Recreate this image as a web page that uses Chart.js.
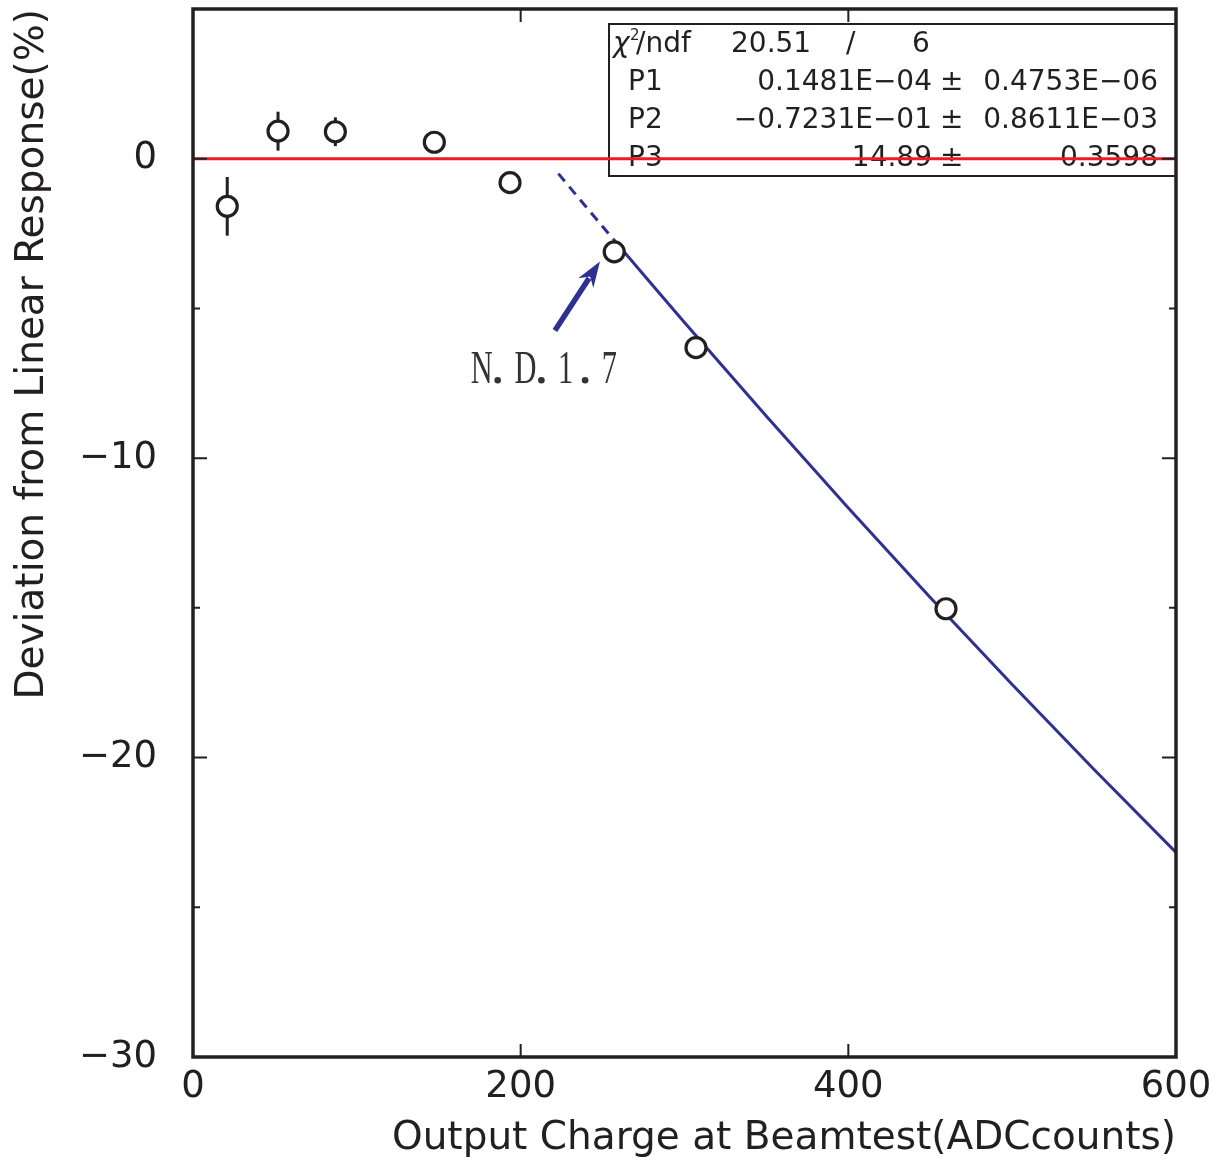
<!DOCTYPE html>
<html lang="en">
<head>
  <meta charset="UTF-8" />
  <title>Deviation from Linear Response</title>
  <script src="https://cdn.jsdelivr.net/npm/chart.js"></script>
  <style>
    html, body { margin: 0; padding: 0; background: #fff; }
  </style>
</head>
<body>
  <canvas id="chart" width="1222" height="1164"></canvas>

  <script>
    // measured points (ADC counts, deviation %)
    const chargeVals = [20.9, 51.9, 86.9, 147.3, 193.5, 257.1, 307.0, 459.6];
    const deviationVals = [-1.59, 0.92, 0.90, 0.55, -0.80, -3.11, -6.31, -15.03];
    const deviationErr = [0.98, 0.65, 0.48, 0.30, 0.25, 0.25, 0.25, 0.25];

    // pol2 fit result: P1*x^2 + P2*x + P3
    const fitParams = [0.1481e-4, -0.7231e-1, 14.89];
    const fitDashedX = [223, 230, 240, 250, 258];
    const fitSolidX = [258, 280, 300, 350, 400, 450, 500, 550, 600];

    const xTicks = [0, 200, 400, 600];
    const yTicks = [-30, -25, -20, -15, -10, -5, 0, 5];

    const statsRows = [
      ['P1', '0.1481E\u221204', '0.4753E\u221206'],
      ['P2', '\u22120.7231E\u221201', '0.8611E\u221203'],
      ['P3', '14.89', '0.3598']
    ];

    // N.D.1.7 arrow (tail, tip) and label position, data coordinates
    const arrowTail = { x: 220.9, y: -5.74 };
    const arrowTip = { x: 248.4, y: -3.43 };
    const ndLabel = { x: 169.5, y: -7.0 };
    const ndParts = ['N', 'D', '1', '7'];

    const fitAt = x => fitParams[0] * x * x + fitParams[1] * x + fitParams[2];
    const BLUE = '#2e3192';
    const INK = '#231f20';
    const SANS = '"DejaVu Sans", sans-serif';

    const errorBars = {
      id: 'errorBars',
      beforeDatasetsDraw(chart) {
        const { ctx, scales: { x, y } } = chart;
        ctx.save();
        ctx.strokeStyle = INK;
        ctx.lineWidth = 3;
        chargeVals.forEach((cx, i) => {
          const px = x.getPixelForValue(cx);
          ctx.beginPath();
          ctx.moveTo(px, y.getPixelForValue(deviationVals[i] + deviationErr[i]));
          ctx.lineTo(px, y.getPixelForValue(deviationVals[i] - deviationErr[i]));
          ctx.stroke();
        });
        ctx.restore();
      }
    };

    // fit statistics box, drawn under the datasets so the zero line crosses it
    const statsBox = {
      id: 'statsBox',
      beforeDatasetsDraw(chart) {
        const { ctx, chartArea } = chart;
        const left = 609, top = 24, right = chartArea.right, bottom = 176;
        ctx.save();
        ctx.fillStyle = '#fff';
        ctx.fillRect(left, top, right - left, bottom - top);
        ctx.strokeStyle = INK;
        ctx.lineWidth = 2;
        ctx.strokeRect(left, top, right - left, bottom - top);

        ctx.fillStyle = INK;
        ctx.textBaseline = 'middle';
        const rowY = [45, 83, 121, 159];

        ctx.textAlign = 'left';
        ctx.font = 'italic 28px ' + SANS;
        ctx.fillText('\u03c7', 613, rowY[0]);
        ctx.font = '15px ' + SANS;
        ctx.fillText('2', 630, rowY[0] - 9);
        ctx.font = '28px ' + SANS;
        ctx.fillText('/ndf', 636, rowY[0]);
        ctx.fillText('20.51', 731, rowY[0]);
        ctx.fillText('/', 846, rowY[0]);
        ctx.fillText('6', 912, rowY[0]);

        statsRows.forEach((r, i) => {
          const yy = rowY[i + 1];
          ctx.textAlign = 'left';
          ctx.fillText(r[0], 628, yy);
          ctx.textAlign = 'right';
          ctx.fillText(r[1], 932, yy);
          ctx.textAlign = 'left';
          ctx.fillText('\u00b1', 940, yy);
          ctx.textAlign = 'right';
          ctx.fillText(r[2], 1158, yy);
        });
        ctx.restore();
      }
    };

    // frame with inward ticks on all four sides, plus the arrow annotation
    const frameAndNotes = {
      id: 'frameAndNotes',
      afterDraw(chart) {
        const { ctx, chartArea: a, scales: { x, y } } = chart;
        ctx.save();
        ctx.strokeStyle = INK;
        ctx.lineWidth = 2;
        xTicks.slice(1, -1).forEach(v => {
          const px = x.getPixelForValue(v);
          ctx.beginPath();
          ctx.moveTo(px, a.bottom); ctx.lineTo(px, a.bottom - 13);
          ctx.moveTo(px, a.top); ctx.lineTo(px, a.top + 13);
          ctx.stroke();
        });
        yTicks.slice(1, -1).forEach(v => {
          const py = y.getPixelForValue(v);
          const len = v % 10 === 0 ? 14 : 7;
          ctx.beginPath();
          ctx.moveTo(a.left, py); ctx.lineTo(a.left + len, py);
          ctx.moveTo(a.right, py); ctx.lineTo(a.right - len, py);
          ctx.stroke();
        });
        ctx.lineWidth = 3.5;
        ctx.strokeRect(a.left, a.top, a.right - a.left, a.bottom - a.top);

        // arrow
        const tx = x.getPixelForValue(arrowTail.x), ty = y.getPixelForValue(arrowTail.y);
        const hx = x.getPixelForValue(arrowTip.x), hy = y.getPixelForValue(arrowTip.y);
        const ang = Math.atan2(hy - ty, hx - tx);
        const headLen = 26, headW = 9;
        const bx = hx - headLen * Math.cos(ang), by = hy - headLen * Math.sin(ang);
        ctx.strokeStyle = BLUE;
        ctx.fillStyle = BLUE;
        ctx.lineWidth = 5.5;
        ctx.beginPath();
        ctx.moveTo(tx, ty); ctx.lineTo(bx + 6 * Math.cos(ang), by + 6 * Math.sin(ang));
        ctx.stroke();
        ctx.beginPath();
        ctx.moveTo(hx, hy);
        ctx.lineTo(bx + headW * Math.sin(ang), by - headW * Math.cos(ang));
        ctx.lineTo(bx + 8 * Math.cos(ang), by + 8 * Math.sin(ang));
        ctx.lineTo(bx - headW * Math.sin(ang), by + headW * Math.cos(ang));
        ctx.closePath();
        ctx.fill();

        // label in a narrow serif, glyphs on a fixed pitch with a dot after each
        ctx.fillStyle = '#333';
        ctx.font = '46px "Liberation Serif", serif';
        ctx.textAlign = 'left';
        ctx.textBaseline = 'alphabetic';
        const lx = x.getPixelForValue(ndLabel.x), ly = y.getPixelForValue(ndLabel.y) + 15;
        ndParts.forEach((p, i) => {
          const gx = lx + i * 43.7;
          ctx.save();
          ctx.translate(gx, ly);
          ctx.scale(0.66, 1);
          ctx.fillText(p, 0, 0);
          ctx.restore();
          if (i < ndParts.length - 1) {
            ctx.beginPath();
            ctx.arc(gx + 27, ly - 3, 3.3, 0, Math.PI * 2);
            ctx.fill();
          }
        });
        ctx.restore();
      }
    };

    new Chart(document.getElementById('chart'), {
      type: 'scatter',
      data: {
        datasets: [
          {
            label: 'data',
            data: chargeVals.map((v, i) => ({ x: v, y: deviationVals[i] })),
            pointRadius: 10,
            pointBorderWidth: 3.2,
            borderColor: INK,
            backgroundColor: '#fff',
            showLine: false
          },
          {
            label: 'fit extrapolation',
            data: fitDashedX.map(v => ({ x: v, y: fitAt(v) })),
            showLine: true,
            pointRadius: 0,
            borderColor: BLUE,
            borderWidth: 3,
            borderDash: [10, 7]
          },
          {
            label: 'fit',
            data: fitSolidX.map(v => ({ x: v, y: fitAt(v) })),
            showLine: true,
            pointRadius: 0,
            borderColor: BLUE,
            borderWidth: 3
          },
          {
            label: 'zero',
            data: [{ x: 0, y: 0 }, { x: 600, y: 0 }],
            showLine: true,
            pointRadius: 0,
            borderColor: '#ed1c24',
            borderWidth: 3
          }
        ]
      },
      options: {
        responsive: false,
        animation: false,
        devicePixelRatio: 1,
        layout: { autoPadding: false, padding: { top: 9, right: 46, left: 0, bottom: 0 } },
        plugins: { legend: { display: false }, tooltip: { enabled: false } },
        scales: {
          x: {
            type: 'linear',
            min: 0, max: 600,
            afterBuildTicks: s => { s.ticks = xTicks.map(v => ({ value: v })); },
            afterFit: s => { s.height = 107; s.paddingLeft = 0; s.paddingRight = 0; },
            grid: { display: false, drawTicks: false },
            border: { display: false },
            ticks: {
              padding: 8,
              color: INK,
              font: { family: SANS, size: 37 },
              maxRotation: 0
            },
            title: {
              display: true,
              text: 'Output Charge at Beamtest(ADCcounts)',
              align: 'end',
              color: INK,
              font: { family: SANS, size: 39 },
              padding: { top: 0, bottom: 2 }
            }
          },
          y: {
            type: 'linear',
            min: -30, max: 5,
            afterBuildTicks: s => { s.ticks = yTicks.map(v => ({ value: v })); },
            afterFit: s => { s.width = 193; s.paddingTop = 0; s.paddingBottom = 0; },
            grid: { display: false, drawTicks: false },
            border: { display: false },
            ticks: {
              padding: 36,
              color: INK,
              font: { family: SANS, size: 37 },
              callback: v => (v % 10 === 0 ? String(v).replace('-', '\u2212') : '')
            },
            title: {
              display: true,
              text: 'Deviation from Linear Response(%)',
              align: 'end',
              color: INK,
              font: { family: SANS, size: 39 },
              padding: { top: 9, bottom: 0 }
            }
          }
        }
      },
      plugins: [errorBars, statsBox, frameAndNotes]
    });
  </script>
</body>
</html>
